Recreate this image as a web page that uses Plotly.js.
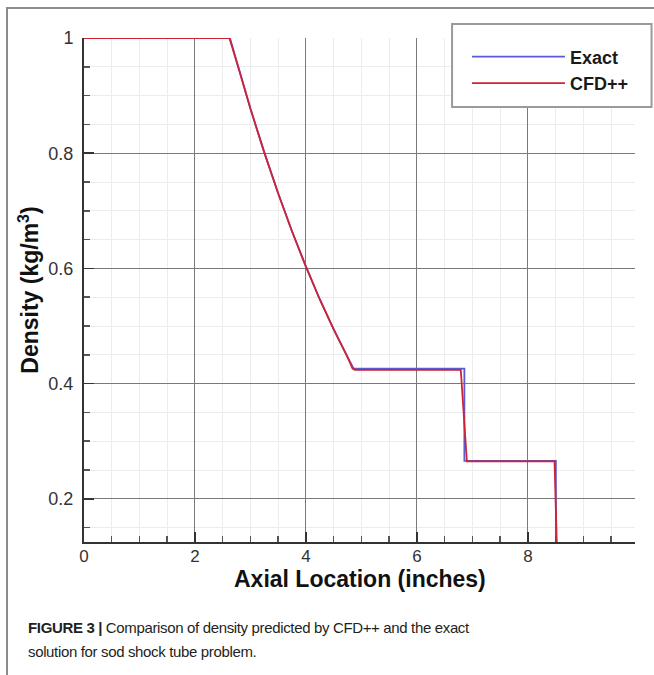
<!DOCTYPE html>
<html>
<head>
<meta charset="utf-8">
<script src="https://cdn.plot.ly/plotly-3.0.1.min.js"></script>
<style>
  html, body { margin: 0; padding: 0; background: #fff; overflow: hidden; }
  #wrap { position: relative; width: 654px; height: 675px; overflow: hidden; }
  #frame { position: absolute; left: 6px; top: 7px; width: 720px; height: 720px;
           border: 2px solid #8c8c8c; box-sizing: border-box; }
  #chart { position: absolute; left: 0; top: 0; width: 654px; height: 675px; }
  #caption { position: absolute; left: 28px; top: 616px; width: 610px;
             font-family: "Liberation Sans", Arial, sans-serif; font-size: 15px;
             letter-spacing: -0.35px; line-height: 24px; color: #231f20; }
  #caption b { font-weight: bold; }
</style>
</head>
<body>
<div id="wrap">
  <div id="frame"></div>
  <div id="chart"></div>
  <div id="caption"><b>FIGURE 3 |</b> Comparison of density predicted by CFD++ and the exact<br>solution for sod shock tube problem.</div>
</div>
<script>
// Axial location (inches) and density (kg/m^3)
const exactX = [0, 1, 2, 2.63, 2.8, 3.0, 3.25, 3.5, 3.75, 4.0, 4.25, 4.5, 4.75, 4.86, 5.5, 6.0, 6.5, 6.855, 6.855, 7.5, 8.0, 8.504, 8.504];
const exactY = [1, 1, 1, 1, 0.943, 0.877, 0.801, 0.730, 0.664, 0.603, 0.546, 0.494, 0.446, 0.426, 0.426, 0.426, 0.426, 0.426, 0.266, 0.266, 0.266, 0.266, 0.125];

const cfdX = [0, 1, 2, 2.62, 2.8, 3.0, 3.25, 3.5, 3.75, 4.0, 4.25, 4.5, 4.75, 4.84, 4.88, 5.5, 6.0, 6.5, 6.79, 6.90, 7.5, 8.0, 8.48, 8.52];
const cfdY = [1, 1, 1, 1, 0.943, 0.877, 0.801, 0.730, 0.664, 0.603, 0.546, 0.494, 0.446, 0.426, 0.424, 0.424, 0.424, 0.424, 0.424, 0.265, 0.265, 0.265, 0.265, 0.125];

const seriesNames = ["Exact", "CFD++"];
const seriesColors = ["#5b5bd6", "#cf2333"];

const xTickVals = [0, 2, 4, 6, 8];
const yTickVals = [0.2, 0.4, 0.6, 0.8, 1];
const xTitle = "Axial Location (inches)";
const yTitle = "Density (kg/m<sup>3</sup>)";

const traces = [
  { x: exactX, y: exactY, mode: "lines", name: seriesNames[0],
    line: { color: seriesColors[0], width: 1.8 } },
  { x: cfdX, y: cfdY, mode: "lines", name: seriesNames[1],
    line: { color: seriesColors[1], width: 1.8 } }
];

const fontFam = '"Liberation Sans", Arial, Helvetica, sans-serif';

const layout = {
  width: 654, height: 675,
  margin: { l: 84, r: 19, t: 38, b: 133 },
  paper_bgcolor: "rgba(0,0,0,0)",
  plot_bgcolor: "#ffffff",
  font: { family: fontFam, color: "#333" },
  showlegend: true,
  legend: {
    x: 0.695, y: 0.9365, xanchor: "left", yanchor: "middle",
    bgcolor: "rgba(0,0,0,0)", borderwidth: 0,
    font: { family: fontFam, size: 18, color: "#1a1a1a", weight: "bold" },
    itemwidth: 93
  },
  shapes: [
    { type: "rect", xref: "paper", yref: "paper", layer: "above",
      x0: 0.668, x1: 1.03, y0: 0.863, y1: 1.028,
      fillcolor: "#ffffff", line: { color: "#9a9a9a", width: 2 } }
  ],
  annotations: [
    { text: xTitle, xref: "paper", yref: "paper", x: 0.5, y: -0.0734,
      xanchor: "center", yanchor: "middle", showarrow: false,
      font: { family: fontFam, size: 23, color: "#111", weight: "bold" } }
  ],
  xaxis: {
    range: [0, 9.93],
    tickvals: xTickVals,
    ticks: "inside", ticklen: 10, tickwidth: 1.5, tickcolor: "#333",
    tickfont: { size: 17, color: "#333" },
    ticklabelstandoff: -2,
    showline: true, linecolor: "#333", linewidth: 2,
    showgrid: true, gridcolor: "#7a7a7a", gridwidth: 1,
    zeroline: false,
    minor: { dtick: 0.5, tick0: 0, ticks: "inside", ticklen: 6, tickcolor: "#555",
             showgrid: true, gridcolor: "#ececec", gridwidth: 1 }
  },
  yaxis: {
    range: [0.125, 1],
    tickvals: yTickVals,
    ticks: "inside", ticklen: 10, tickwidth: 1.5, tickcolor: "#333",
    tickfont: { size: 18, color: "#333" },
    ticklabelstandoff: 5,
    showline: true, linecolor: "#333", linewidth: 2,
    showgrid: true, gridcolor: "#7a7a7a", gridwidth: 1,
    zeroline: false,
    minor: { dtick: 0.05, tick0: 0, ticks: "inside", ticklen: 6, tickcolor: "#555",
             showgrid: true, gridcolor: "#ececec", gridwidth: 1 },
    title: { text: yTitle, standoff: 3,
             font: { family: fontFam, size: 23, color: "#111", weight: "bold" } }
  }
};

Plotly.newPlot("chart", traces, layout, { displayModeBar: false, staticPlot: true });
</script>
</body>
</html>
